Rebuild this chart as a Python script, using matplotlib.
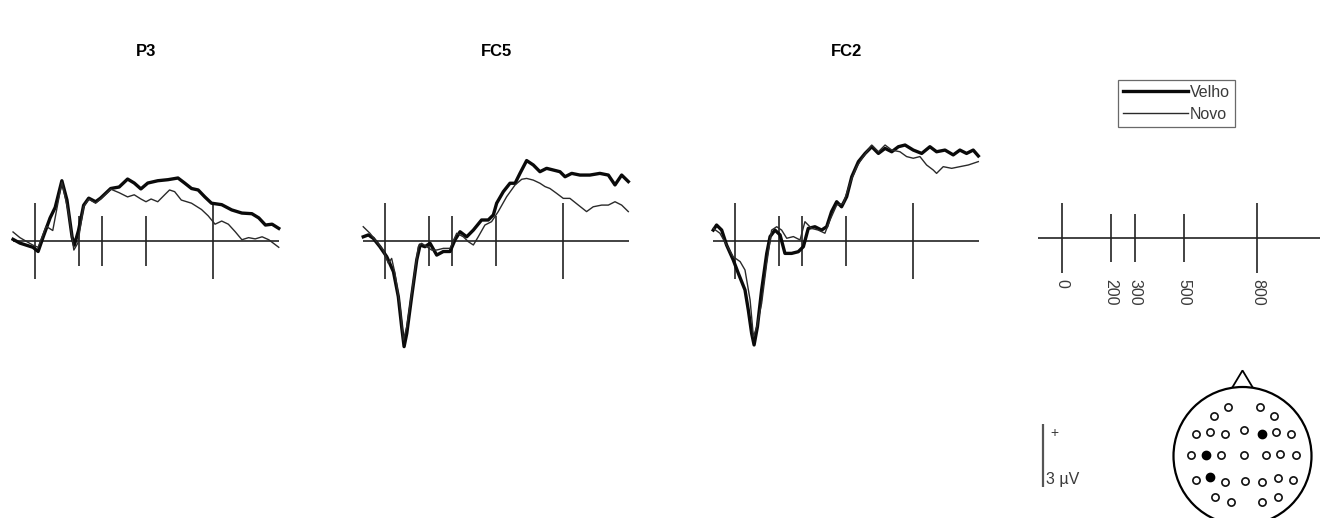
"""
ERP waveforms (Velho vs Novo) at P3, FC5 and FC2,
with time axis key, 3 µV scale bar and electrode map.
"""
import matplotlib
matplotlib.use("Agg")
import matplotlib.pyplot as plt
from matplotlib.patches import Circle, Polygon

plt.rcParams["font.family"] = ["Liberation Sans", "DejaVu Sans"]

W, H = 1320, 518

# --- data -----------------------------------------------------------------
channels = ["P3", "FC5", "FC2"]
tick_ms = [0, 200, 300, 500, 800]
long_ticks = [0, 800]

# P3
p3_velho_t = [-99, -68, -9, 14, 37, 68, 91, 121, 144, 167, 177, 196, 219, 242,
              273, 295, 341, 379, 417, 447, 477, 508, 553, 599, 644, 674, 705,
              735, 765, 795, 841, 886, 932, 977, 1008, 1038, 1068, 1098]
p3_velho = [0.08, -0.1, -0.3, -0.5, 0.2, 1.1, 1.6, 2.87, 1.95, 0.2, -0.2, 0.5,
            1.7, 2.04, 1.87, 2.04, 2.5, 2.57, 2.95, 2.76, 2.48, 2.76, 2.87,
            2.92, 3.0, 2.76, 2.5, 2.43, 2.1, 1.8, 1.73, 1.48, 1.33, 1.3, 1.1,
            0.76, 0.8, 0.6]
p3_novo_t = [-99, -68, -9, 14, 50, 80, 106, 121, 152, 175, 193, 219, 242, 273,
             295, 341, 379, 417, 447, 477, 500, 523, 553, 584, 606, 629, 659,
             705, 750, 780, 811, 841, 871, 902, 932, 962, 992, 1023, 1053, 1098]
p3_novo = [0.43, 0.16, -0.2, -0.3, 0.7, 0.5, 1.96, 2.8, 1.3, -0.43, -0.1, 1.63,
           2.0, 1.8, 2.0, 2.47, 2.3, 2.1, 2.2, 2.0, 1.87, 2.0, 1.87, 2.2, 2.43,
           2.35, 1.95, 1.8, 1.5, 1.2, 0.8, 0.95, 0.8, 0.44, 0.06, 0.16, 0.1,
           0.2, 0.06, -0.3]

# FC5
fc5_velho_t = [-98, -75, -53, -23, 8, 38, 60, 75, 86, 98, 120, 143, 158, 180,
               203, 233, 263, 293, 315, 338, 368, 398, 435, 465, 488, 503, 533,
               563, 586, 608, 638, 668, 698, 728, 758, 788, 811, 841, 878, 923,
               968, 1006, 1036, 1066, 1096]
fc5_velho = [0.2, 0.29, 0.13, -0.27, -0.75, -1.46, -2.65, -4.08, -5.03, -4.4,
             -2.65, -0.9, -0.19, -0.27, -0.11, -0.67, -0.5, -0.5, 0.05, 0.44,
             0.2, 0.52, 1.0, 1.0, 1.24, 1.8, 2.35, 2.75, 2.75, 3.22, 3.83, 3.62,
             3.3, 3.46, 3.38, 3.3, 3.06, 3.22, 3.14, 3.14, 3.22, 3.14, 2.67,
             3.14, 2.83]
fc5_novo_t = [-98, -68, -38, -8, 15, 30, 45, 68, 83, 98, 120, 150, 165, 188,
              210, 233, 263, 293, 323, 353, 375, 398, 420, 450, 480, 510, 548,
              586, 616, 638, 668, 698, 721, 743, 773, 803, 833, 871, 908, 938,
              976, 1006, 1036, 1066, 1096]
fc5_novo = [0.68, 0.37, -0.03, -0.43, -1.06, -0.83, -1.54, -3.13, -4.71, -4.08,
            -2.5, -0.27, -0.11, -0.27, -0.43, -0.43, -0.35, -0.35, 0.37, 0.2,
            -0.03, -0.19, 0.2, 0.76, 0.92, 1.4, 2.11, 2.67, 2.94, 2.98, 2.9,
            2.75, 2.59, 2.5, 2.27, 2.03, 2.03, 1.71, 1.4, 1.63, 1.71, 1.71,
            1.87, 1.71, 1.4]

# FC2
fc2_velho_t = [-98, -83, -60, -38, -8, 15, 45, 60, 75, 86, 101, 120, 143, 158,
               180, 203, 225, 255, 285, 308, 330, 360, 390, 413, 435, 458, 480,
               503, 526, 556, 586, 616, 646, 676, 706, 736, 766, 803, 841, 878,
               908, 946, 983, 1013, 1043, 1073, 1096]
fc2_velho = [0.52, 0.76, 0.52, -0.19, -0.9, -1.54, -2.33, -3.29, -4.4, -4.95,
             -4.08, -2.33, -0.59, 0.21, 0.52, 0.29, -0.59, -0.59, -0.51, -0.27,
             0.6, 0.68, 0.52, 0.68, 1.4, 1.87, 1.63, 2.11, 3.06, 3.78, 4.17,
             4.49, 4.17, 4.41, 4.25, 4.49, 4.57, 4.33, 4.17, 4.49, 4.25, 4.33,
             4.1, 4.33, 4.17, 4.33, 4.05]
fc2_novo_t = [-98, -68, -38, -8, 23, 45, 68, 83, 98, 120, 143, 165, 188, 210,
              233, 263, 293, 315, 345, 375, 405, 428, 458, 488, 518, 548, 578,
              616, 646, 676, 706, 743, 773, 803, 833, 863, 893, 908, 938, 976,
              1013, 1051, 1096]
fc2_novo = [0.6, 0.37, -0.19, -0.75, -0.98, -1.38, -2.81, -4.56, -4.08, -2.97,
            -1.06, 0.52, 0.68, 0.52, 0.13, 0.21, 0.05, 0.92, 0.6, 0.52, 0.37,
            1.0, 1.71, 1.79, 2.75, 3.54, 4.02, 4.57, 4.25, 4.57, 4.33, 4.25,
            4.02, 3.94, 4.02, 3.62, 3.38, 3.22, 3.54, 3.46, 3.54, 3.62, 3.78]

velho = [(p3_velho_t, p3_velho), (fc5_velho_t, fc5_velho), (fc2_velho_t, fc2_velho)]
novo = [(p3_novo_t, p3_novo), (fc5_novo_t, fc5_novo), (fc2_novo_t, fc2_novo)]

# electrode layout (head radius = 1), highlighted ones = channels shown
elec_x = [-0.41, -0.21, 0.26, 0.45,
          -0.67, -0.47, -0.25, 0.02, 0.48, 0.70,
          -0.75, -0.31, 0.02, 0.34, 0.55, 0.78,
          -0.67, -0.25, 0.04, 0.28, 0.52, 0.73,
          -0.40, -0.17, 0.28, 0.52]
elec_y = [0.58, 0.71, 0.71, 0.58,
          0.32, 0.35, 0.32, 0.37, 0.35, 0.32,
          0.01, 0.01, 0.01, 0.01, 0.03, 0.01,
          -0.35, -0.38, -0.36, -0.38, -0.32, -0.35,
          -0.59, -0.67, -0.67, -0.59]
active_x = [-0.47, -0.53, 0.28]   # P3, FC5, FC2
active_y = [-0.31, 0.01, 0.32]

scale_uv = 3

# --- layout helpers ---------------------------------------------------------
def px_axes(fig, x0, y0, x1, y1):
    ax = fig.add_axes([x0 / W, 1 - y1 / H, (x1 - x0) / W, (y1 - y0) / H])
    ax.set_axis_off()
    return ax


AX_COL = "#222222"
TXT_COL = "#3a3a3a"
PX_MS = 0.222     # px per ms
PX_UV = 21.0      # px per µV
BASE_Y = 241
YLIM = (-6.0, 5.5)
XLIM = (-110, 1110)
zero_px = [35, 385, 735]

fig = plt.figure(figsize=(W / 100, H / 100), dpi=100)

handles = []
for i, ch in enumerate(channels):
    x0 = zero_px[i] + XLIM[0] * PX_MS
    x1 = zero_px[i] + XLIM[1] * PX_MS
    y0 = BASE_Y - YLIM[1] * PX_UV
    y1 = BASE_Y - YLIM[0] * PX_UV
    ax = px_axes(fig, x0, y0, x1, y1)
    ax.set_xlim(*XLIM)
    ax.set_ylim(*YLIM)

    ax.hlines(0, -100, 1100, color=AX_COL, lw=1.2)
    for t in tick_ms:
        h = 1.8 if t in long_ticks else 1.2
        ax.vlines(t, -h, h, color=AX_COL, lw=1.2)

    tv, yv = velho[i]
    tn, yn = novo[i]
    l1, = ax.plot(tv, yv, color="#0a0a0a", lw=2.4, solid_joinstyle="round")
    l2, = ax.plot(tn, yn, color="#2a2a2a", lw=1.0)
    if i == 0:
        handles = [l1, l2]

    ax.text(0.5, 1 + (y0 - 52) / (y1 - y0), ch, transform=ax.transAxes,
            ha="center", va="center", fontsize=12, fontweight="bold")

# legend
leg = fig.legend(handles, ["Velho", "Novo"], loc="upper left",
                 bbox_to_anchor=(1118 / W, 1 - 80 / H), fontsize=11.5,
                 frameon=True, fancybox=False, handlelength=4.1,
                 handletextpad=0.1, labelspacing=0.45, borderpad=0.3,
                 borderaxespad=0)
leg.get_frame().set_edgecolor("#444444")
leg.get_frame().set_linewidth(0.9)
for txt in leg.get_texts():
    txt.set_color(TXT_COL)

# time axis key
kax = px_axes(fig, 1038, 190, 1320, 290)
kax.set_xlim(-98, 1057)
kax.set_ylim(-(290 - 238) / PX_UV, (238 - 190) / PX_UV)
kax.axhline(0, color=AX_COL, lw=1.2)
for t in tick_ms:
    h = 1.67 if t in long_ticks else 1.14
    kax.vlines(t, -h, h, color=AX_COL, lw=1.2)
    kax.text(t, -1.95, str(t), rotation=270, ha="center", va="top",
             fontsize=11.5, color=TXT_COL)

# amplitude scale bar
sax = px_axes(fig, 1030, 410, 1110, 500)
sax.set_xlim(0, 80)
sax.set_ylim(-(500 - 487) / PX_UV, (487 - 410) / PX_UV)
sax.vlines(13, 0, scale_uv, color="#555555", lw=1.6)
sax.text(20, scale_uv - 0.45, "+", ha="left", va="center", fontsize=10,
         color=TXT_COL)
sax.text(16.5, 0.38, f"{scale_uv} µV", ha="left", va="center", fontsize=11.5,
         color=TXT_COL)

# electrode map
r_px, cx, cy = 69, 1242.5, 456
hax = px_axes(fig, 1166, 360, 1319, 518)
hax.set_xlim((1166 - cx) / r_px, (1319 - cx) / r_px)
hax.set_ylim((cy - 518) / r_px, (cy - 360) / r_px)
hax.add_patch(Circle((0, 0), 1, fill=False, ec="black", lw=1.6))
hax.add_patch(Polygon([[-0.15, 0.99], [0, 1.24], [0.15, 0.99]], closed=False,
                      fill=False, ec="black", lw=1.3))
hax.plot(elec_x, elec_y, "o", ms=5.2, mfc="white", mec="#111111", mew=1.2,
         ls="none")
hax.plot(active_x, active_y, "o", ms=6, mfc="black", mec="black", ls="none")

fig.savefig("out.png", dpi=100, facecolor="white")
